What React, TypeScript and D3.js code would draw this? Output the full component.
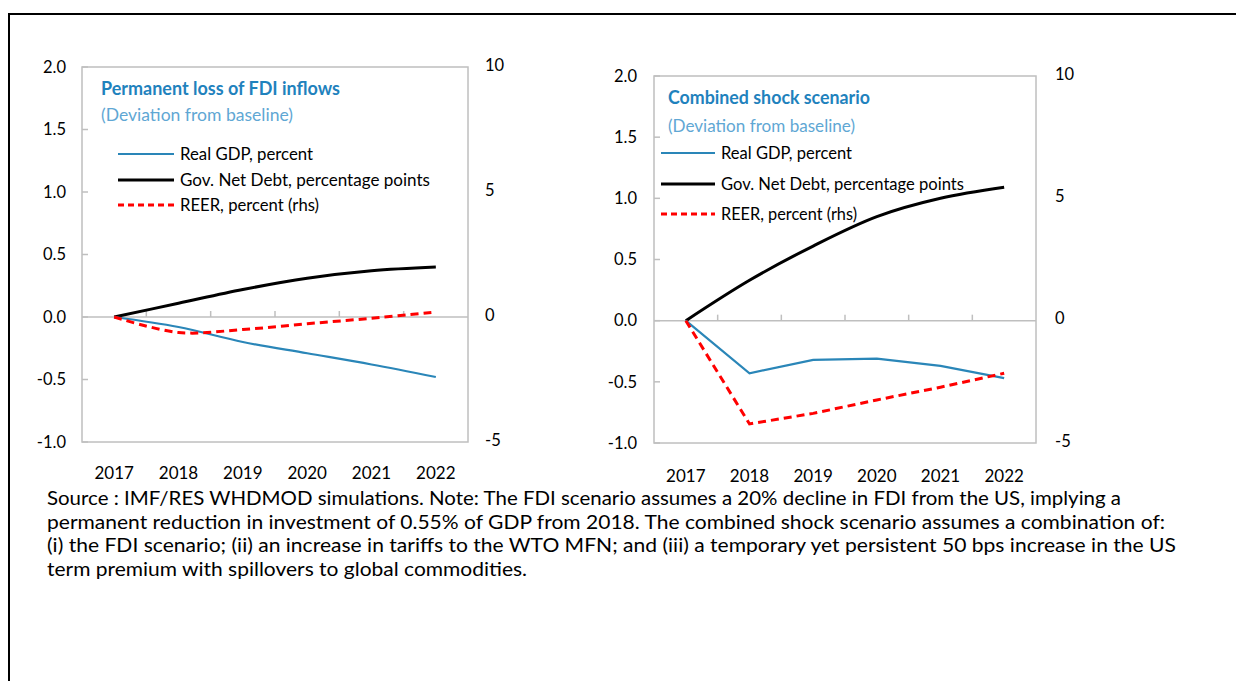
import React from 'react';
import * as d3 from 'd3';

const years = ['2017', '2018', '2019', '2020', '2021', '2022'];
const leftTicks = [2.0, 1.5, 1.0, 0.5, 0.0, -0.5, -1.0];
const rightTicks = [10, 5, 0, -5];

const fdiGdp = [0, -0.08, -0.2, -0.29, -0.38, -0.48];
const fdiDebt = [0, 0.11, 0.22, 0.31, 0.37, 0.4];
const fdiReer = [0, -0.62, -0.5, -0.27, -0.05, 0.2];

const combGdp = [0, -0.43, -0.32, -0.31, -0.37, -0.47];
const combDebt = [0, 0.33, 0.61, 0.85, 1.0, 1.09];
const combReer = [0, -4.22, -3.79, -3.24, -2.72, -2.15];

const legendLabels = ['Real GDP, percent', 'Gov. Net Debt, percentage points', 'REER, percent (rhs)'];

const footnote = [
  'Source : IMF/RES WHDMOD simulations. Note: The FDI scenario assumes a 20% decline in FDI from the US, implying a',
  'permanent reduction in investment of 0.55% of GDP from 2018. The combined shock scenario assumes a combination of:',
  '(i) the FDI scenario; (ii) an increase in tariffs to the WTO MFN; and (iii) a temporary yet persistent 50 bps increase in the US',
  'term premium with spillovers to global commodities.',
];

const FONT = 'Lato, "Open Sans", sans-serif';
const BLUE = '#2a86b8';
const RED = '#ff0000';
const GRID = '#bfbfbf';

type PanelProps = {
  x0: number; x1: number; y0: number; y1: number;
  leftLabelX: number; rightLabelX: number; xLabelY: number;
  gdp: number[]; debt: number[]; reer: number[];
  title: string; titleY: number; subY: number; titleX: number;
  titleW: number; subW: number; legW: number[];
  legLineX0: number; legLineX1: number; legRows: number[];
  smooth: boolean;
};

function Panel(p: PanelProps) {
  const x = d3.scaleBand<string>().domain(years).range([p.x0, p.x1]);
  const yL = d3.scaleLinear().domain([-1, 2]).range([p.y1, p.y0]);
  const yR = d3.scaleLinear().domain([-5, 10]).range([p.y1, p.y0]);
  const cx = (i: number) => (x(years[i]) as number) + x.bandwidth() / 2;
  const curve = p.smooth ? d3.curveCatmullRom.alpha(0) : d3.curveLinear;
  const lineL = d3.line<number>().x((_, i) => cx(i)).y((d) => yL(d)).curve(curve);
  const lineR = d3.line<number>().x((_, i) => cx(i)).y((d) => yR(d)).curve(curve);
  const debtLine = d3.line<number>().x((_, i) => cx(i)).y((d) => yL(d)).curve(d3.curveCatmullRom.alpha(0));
  const zero = yL(0);
  return (
    <g>
      <rect x={p.x0} y={p.y0} width={p.x1 - p.x0} height={p.y1 - p.y0} fill="none" stroke={GRID} strokeWidth={1.5} />
      <line x1={p.x0} x2={p.x1} y1={zero} y2={zero} stroke={GRID} strokeWidth={1.5} />
      {years.slice(1).map((yr) => (
        <line key={yr} x1={x(yr)} x2={x(yr)} y1={zero} y2={zero - 6} stroke={GRID} strokeWidth={1.5} />
      ))}
      {leftTicks.map((t) => (
        <g key={t}>
          <line x1={p.x0} x2={p.x0 + 6} y1={yL(t)} y2={yL(t)} stroke={GRID} strokeWidth={1.5} />
          <text x={p.leftLabelX} y={yL(t)} dy="0.35em" textAnchor="end" fontSize={16.5} fill="#000" fontFamily={FONT}>
            {t.toFixed(1)}
          </text>
        </g>
      ))}
      {rightTicks.map((t) => (
        <text key={t} x={p.rightLabelX} y={yR(t) - 2} dy="0.35em" textAnchor="start" fontSize={16.5} fill="#000" fontFamily={FONT}>
          {t}
        </text>
      ))}
      {years.map((yr, i) => (
        <text key={yr} x={cx(i)} y={p.xLabelY} textAnchor="middle" fontSize={17} fill="#000" fontFamily={FONT}>
          {yr}
        </text>
      ))}
      <path d={debtLine(p.debt) || ''} fill="none" stroke="#000" strokeWidth={3} />
      <path d={lineL(p.gdp) || ''} fill="none" stroke={BLUE} strokeWidth={2.2} />
      <path d={lineR(p.reer) || ''} fill="none" stroke={RED} strokeWidth={3} strokeDasharray="8,5" />
      <text x={p.titleX} y={p.titleY} fontSize={18} fontWeight="bold" fill="#1f82bd" fontFamily={FONT}
        textLength={p.titleW} lengthAdjust="spacingAndGlyphs">{p.title}</text>
      <text x={p.titleX} y={p.subY} fontSize={17.5} fill="#5fa7d4" fontFamily={FONT}
        textLength={p.subW} lengthAdjust="spacingAndGlyphs">(Deviation from baseline)</text>
      {legendLabels.map((lab, i) => (
        <g key={lab}>
          <line x1={p.legLineX0} x2={p.legLineX1} y1={p.legRows[i]} y2={p.legRows[i]}
            stroke={i === 0 ? BLUE : i === 1 ? '#000' : RED}
            strokeWidth={i === 0 ? 2 : 3} strokeDasharray={i === 2 ? '6,4' : undefined} />
          <text x={p.legLineX1 + 6} y={p.legRows[i]} dy="0.35em" fontSize={17.5} fill="#000" fontFamily={FONT}
            textLength={p.legW[i]} lengthAdjust="spacingAndGlyphs">{lab}</text>
        </g>
      ))}
    </g>
  );
}

export default function App() {
  return (
    <svg width={1236} height={681} style={{ position: 'absolute', left: 0, top: 0, background: '#fff' }}>
      <rect x={0} y={0} width={1236} height={681} fill="#fff" />
      <rect x={9} y={14} width={1240} height={700} fill="none" stroke="#000" strokeWidth={2} />
      <Panel x0={82} x1={468} y0={67} y1={442} leftLabelX={66} rightLabelX={485} xLabelY={479}
        gdp={fdiGdp} debt={fdiDebt} reer={fdiReer}
        title="Permanent loss of FDI inflows" titleX={101} titleY={95} subY={121} titleW={239} subW={192}
        legW={[133, 250, 139]}
        legLineX0={118} legLineX1={174} legRows={[154, 180, 205]} smooth={true} />
      <Panel x0={654} x1={1036} y0={76} y1={443} leftLabelX={637} rightLabelX={1055} xLabelY={482}
        gdp={combGdp} debt={combDebt} reer={combReer}
        title="Combined shock scenario" titleX={668} titleY={104} subY={132} titleW={202} subW={187}
        legW={[131, 243, 136]}
        legLineX0={661} legLineX1={715} legRows={[153, 184, 214]} smooth={false} />
      {footnote.map((ln, i) => (
        <text key={i} x={47} y={505 + i * 23.5} fontSize={18.5} fill="#000" fontFamily={FONT}
          textLength={[1074, 1118, 1129, 480][i]} lengthAdjust="spacingAndGlyphs">
          {ln}
        </text>
      ))}
    </svg>
  );
}
